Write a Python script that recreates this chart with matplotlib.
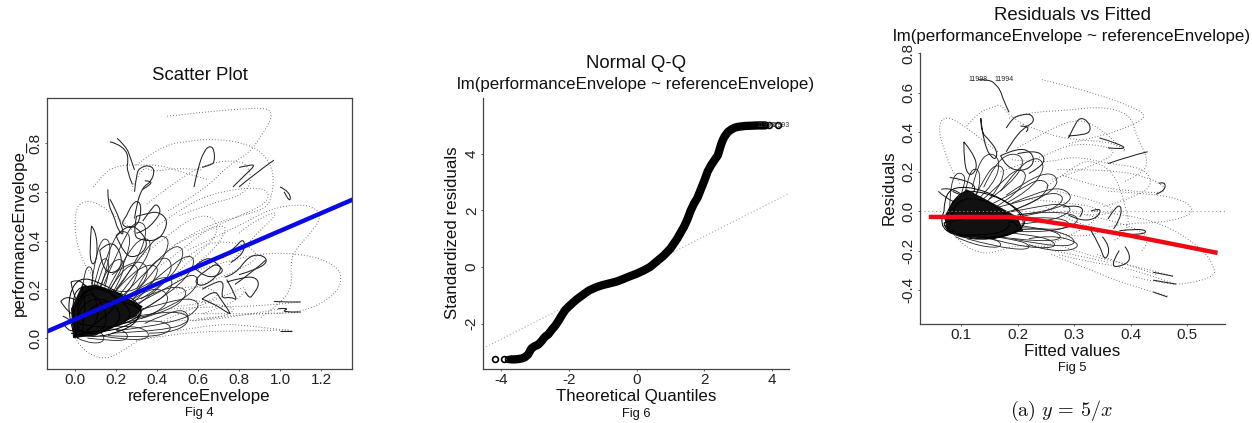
import matplotlib
matplotlib.use('Agg')
import matplotlib.pyplot as plt
from matplotlib.path import Path
from matplotlib.patches import PathPatch

plt.rcParams['font.family'] = ['Liberation Sans', 'DejaVu Sans']
plt.rcParams['mathtext.fontset'] = 'cm'

W, H = 1252, 423

# Fig 4 scatter: faint dotted excursions
scatter_dotted = [
    [(0.45,0.91),(0.6,0.925),(0.8,0.94),(0.93,0.945),(0.96,0.925),(0.95,0.885),(0.9,0.82),(0.85,0.76),(0.75,0.71),(0.62,0.6),(0.45,0.52)],
    [(0.3,0.71),(0.41,0.785),(0.55,0.81),(0.7,0.817),(0.82,0.8),(0.9,0.77),(0.95,0.72),(0.97,0.66),(0.96,0.58),(0.93,0.53),(0.8,0.5),(0.6,0.45),(0.45,0.36)],
    [(0.6,0.28),(0.8,0.33),(0.95,0.35),(1.1,0.345),(1.22,0.32),(1.29,0.28),(1.3,0.24),(1.28,0.19),(1.18,0.13),(1.05,0.1),(0.85,0.1),(0.6,0.08)],
    [(0.55,0.36),(0.8,0.46),(0.95,0.53),(1.09,0.55),(1.17,0.535),(1.2,0.5),(1.17,0.45),(1.07,0.36),(1.05,0.3),(1.06,0.21),(1.0,0.14),(0.9,0.08)],
    [(0.0,0.0),(0.03,-0.04),(0.08,-0.07),(0.14,-0.086),(0.2,-0.07),(0.27,-0.03),(0.33,0.0),(0.42,0.01)],
    [(0.3,0.43),(0.2,0.5),(0.1,0.56),(0.03,0.56),(0.0,0.52),(0.0,0.42),(0.03,0.33),(0.07,0.27),(0.13,0.2)],
    [(0.09,0.62),(0.14,0.68),(0.22,0.71),(0.3,0.71),(0.42,0.71),(0.52,0.68),(0.65,0.65)],
    [(0.35,0.55),(0.5,0.65),(0.65,0.72),(0.8,0.73),(0.85,0.7),(0.86,0.63),(0.8,0.58),(0.65,0.55),(0.5,0.5)],
    [(0.4,0.46),(0.55,0.55),(0.7,0.6),(0.88,0.62),(0.95,0.6),(0.93,0.55),(0.8,0.5),(0.6,0.43),(0.48,0.38)],
    [(0.5,0.03),(0.7,0.06),(0.85,0.05),(1.06,0.03)],
    [(0.47,0.12),(0.7,0.13),(0.9,0.13),(1.1,0.148)],
    [(0.5,0.1),(0.7,0.1),(0.9,0.1),(1.1,0.105)],
    [(0.42,0.07),(0.6,0.07),(0.8,0.09),(1.0,0.12)],
    [(0.3,-0.01),(0.5,0.02),(0.75,0.03),(1.05,0.033)],
    [(0.5,0.3),(0.6,0.37),(0.7,0.4),(0.85,0.38),(0.9,0.33),(0.8,0.28),(0.65,0.23),(0.5,0.18)],
    [(0.28,0.62),(0.33,0.71),(0.38,0.68),(0.5,0.7),(0.62,0.69)],
    [(0.3,0.32),(0.45,0.42),(0.58,0.5),(0.68,0.5),(0.7,0.43),(0.62,0.36),(0.5,0.27)],
    [(0.8,0.43),(0.85,0.47),(1.02,0.535),(0.85,0.4),(0.75,0.3)],
    [(0.45,0.08),(0.6,0.13),(0.75,0.18),(0.85,0.22),(0.78,0.14),(0.62,0.1)],
    [(0.42,0.3),(0.55,0.38),(0.63,0.44),(0.75,0.47),(0.7,0.38),(0.56,0.28),(0.45,0.2)],
    [(0.48,0.2),(0.6,0.22),(0.72,0.18),(0.62,0.14),(0.5,0.13)],
    [(0.55,0.16),(0.68,0.14),(0.8,0.12),(0.7,0.08),(0.56,0.07)],
]

# Fig 4 scatter: darker solid loops
scatter_solid = [
    [(0.17,0.805),(0.2,0.8),(0.25,0.77),(0.26,0.73),(0.25,0.69),(0.28,0.63)],
    [(0.205,0.82),(0.25,0.785),(0.27,0.74),(0.29,0.69)],
    [(0.29,0.6),(0.3,0.68),(0.32,0.7),(0.36,0.71),(0.39,0.69),(0.37,0.64),(0.33,0.62),(0.3,0.55),(0.29,0.49)],
    [(0.33,0.61),(0.37,0.63),(0.37,0.645),(0.34,0.645)],
    [(0.58,0.62),(0.6,0.7),(0.63,0.77),(0.66,0.79),(0.68,0.77),(0.68,0.72),(0.66,0.71),(0.62,0.7)],
    [(0.8,0.7),(0.85,0.71),(0.88,0.71),(0.83,0.67),(0.77,0.62)],
    [(0.8,0.62),(0.87,0.67),(0.97,0.73)],
    [(1.0,0.62),(1.05,0.6),(1.05,0.55),(1.02,0.6)],
    [(0.16,0.61),(0.16,0.55),(0.19,0.5),(0.21,0.44),(0.24,0.42),(0.22,0.48),(0.19,0.54),(0.17,0.57)],
    [(0.08,0.46),(0.1,0.44),(0.11,0.36),(0.1,0.31),(0.08,0.3),(0.07,0.36),(0.08,0.46)],
    [(0.25,0.5),(0.28,0.56),(0.32,0.56),(0.32,0.5),(0.3,0.46),(0.26,0.45),(0.22,0.47),(0.25,0.5)],
    [(0.33,0.48),(0.38,0.54),(0.4,0.55),(0.42,0.52),(0.39,0.48),(0.34,0.44),(0.3,0.43)],
    [(0.3,0.5),(0.35,0.51),(0.4,0.52),(0.45,0.49),(0.44,0.44),(0.4,0.4),(0.33,0.4),(0.28,0.42),(0.3,0.5)],
    [(0.2,0.42),(0.26,0.47),(0.32,0.44),(0.36,0.38),(0.3,0.33),(0.24,0.34),(0.2,0.42)],
    [(0.12,0.36),(0.17,0.4),(0.22,0.36),(0.23,0.29),(0.17,0.26),(0.13,0.3),(0.12,0.36)],
    [(-0.07,0.15),(-0.05,0.17),(0.0,0.16),(0.05,0.13),(0.02,0.09),(-0.03,0.1),(-0.07,0.15)],
    [(-0.02,0.23),(0.01,0.24),(0.05,0.22),(0.06,0.17),(0.02,0.14),(-0.01,0.18),(-0.02,0.23)],
    [(-0.06,0.09),(-0.03,0.08),(0.0,0.05),(-0.02,0.02),(-0.05,0.05)],
    [(0.68,0.3),(0.72,0.3),(0.69,0.25),(0.62,0.21),(0.58,0.23),(0.62,0.27),(0.68,0.3)],
    [(0.62,0.2),(0.66,0.22),(0.73,0.24),(0.71,0.16),(0.76,0.17),(0.8,0.15),(0.74,0.24)],
    [(0.73,0.25),(0.78,0.26),(0.85,0.34),(0.92,0.34),(0.94,0.31),(0.88,0.28),(0.8,0.26)],
    [(0.74,0.23),(0.82,0.25),(0.88,0.25),(0.9,0.22),(0.87,0.18),(0.85,0.16),(0.83,0.19)],
    [(0.72,0.33),(0.78,0.37),(0.82,0.41),(0.83,0.37),(0.8,0.33),(0.76,0.31)],
    [(0.62,0.16),(0.68,0.2),(0.71,0.16),(0.76,0.1),(0.75,0.1),(0.68,0.14),(0.62,0.16)],
    [(0.93,0.32),(0.88,0.28),(0.78,0.22)],
    [(0.97,0.15),(1.05,0.147),(1.1,0.148)],
    [(0.99,0.12),(1.05,0.125),(1.0,0.105),(1.1,0.107)],
    [(1.0,0.03),(1.06,0.03)],
    [(0.58,0.29),(0.64,0.34),(0.7,0.3),(0.73,0.27),(0.64,0.24),(0.58,0.29)],
]

# Fig 4 scatter: petals running out of the core to the edge of the cloud
scatter_petals = [
    [(0.05,0.08),(0.1,0.24),(0.13,0.33),(0.17,0.32),(0.15,0.2),(0.08,0.06)],
    [(0.06,0.08),(0.14,0.26),(0.2,0.33),(0.25,0.31),(0.2,0.2),(0.09,0.06)],
    [(0.08,0.08),(0.18,0.22),(0.27,0.31),(0.32,0.28),(0.24,0.16),(0.1,0.05)],
    [(0.1,0.1),(0.24,0.24),(0.36,0.31),(0.42,0.28),(0.32,0.16),(0.14,0.06)],
    [(0.12,0.1),(0.3,0.2),(0.44,0.26),(0.49,0.22),(0.38,0.13),(0.16,0.05)],
    [(0.12,0.1),(0.34,0.17),(0.5,0.22),(0.56,0.18),(0.44,0.1),(0.18,0.05)],
    [(0.14,0.08),(0.38,0.13),(0.56,0.17),(0.62,0.13),(0.5,0.06),(0.2,0.03)],
    [(0.14,0.07),(0.36,0.1),(0.52,0.11),(0.57,0.07),(0.44,0.03),(0.18,0.02)],
    [(0.12,0.05),(0.3,0.07),(0.44,0.07),(0.48,0.03),(0.36,0.0),(0.16,0.01)],
    [(0.1,0.05),(0.24,0.05),(0.34,0.04),(0.37,0.0),(0.26,-0.01),(0.12,0.01)],
    [(0.06,0.04),(0.16,0.04),(0.25,0.03),(0.26,-0.01),(0.16,-0.01),(0.06,0.0)],
    [(0.02,0.05),(0.08,0.03),(0.14,0.02),(0.14,-0.02),(0.06,-0.02),(0.01,0.0)],
    [(0.02,0.12),(0.04,0.24),(0.06,0.3),(0.09,0.28),(0.08,0.16),(0.04,0.06)],
    [(0.16,0.2),(0.26,0.36),(0.34,0.42),(0.38,0.38),(0.3,0.26),(0.18,0.14)],
    [(0.2,0.2),(0.34,0.36),(0.42,0.43),(0.47,0.39),(0.38,0.26),(0.24,0.14)],
    [(0.24,0.18),(0.4,0.32),(0.5,0.39),(0.54,0.34),(0.44,0.22),(0.28,0.12)],
    [(0.28,0.16),(0.44,0.28),(0.56,0.35),(0.59,0.3),(0.48,0.19),(0.3,0.1)],
    [(0.3,0.14),(0.48,0.22),(0.58,0.27),(0.61,0.22),(0.5,0.14),(0.32,0.08)],
    [(0.1,0.2),(0.17,0.38),(0.23,0.45),(0.28,0.41),(0.22,0.26),(0.13,0.14)],
    [(0.14,0.22),(0.24,0.42),(0.31,0.49),(0.36,0.44),(0.28,0.28),(0.17,0.16)],
    [(0.08,0.22),(0.1,0.34),(0.14,0.42),(0.18,0.38),(0.14,0.24),(0.1,0.14)],
    [(0.3,0.2),(0.36,0.3),(0.45,0.34),(0.48,0.28),(0.4,0.2),(0.32,0.16)],
    [(0.22,0.12),(0.34,0.2),(0.44,0.2),(0.46,0.14),(0.34,0.08),(0.24,0.08)],
    [(0.34,0.06),(0.44,0.1),(0.54,0.12),(0.56,0.06),(0.46,0.02),(0.36,0.02)],
    [(0.18,0.26),(0.28,0.32),(0.36,0.3),(0.34,0.22),(0.24,0.18),(0.18,0.2)],
]

# Fig 4 scatter: outline of the solid black part of the cloud
scatter_blob_x = [-0.01,0.1,0.2,0.3,0.33,0.2,0.1,0.03,-0.02]
scatter_blob_y = [0.0,0.01,0.05,0.09,0.13,0.19,0.22,0.21,0.12]

# Fig 4 scatter: the dense scribble near the origin
scatter_core = [
    [(-0.02,0.02),(0.08,0.0),(0.2,0.02),(0.3,0.06),(0.32,0.12),(0.24,0.17),(0.12,0.23),(0.02,0.25),(-0.03,0.18),(-0.03,0.08),(0.0,0.0)],
    [(0.0,0.03),(0.12,0.02),(0.26,0.05),(0.34,0.1),(0.28,0.17),(0.14,0.2),(0.02,0.22),(-0.02,0.14),(0.0,0.03)],
    [(0.01,0.0),(0.1,0.06),(0.22,0.14),(0.14,0.22),(0.04,0.19),(-0.02,0.1),(0.01,0.0)],
    [(0.02,0.02),(0.14,0.01),(0.24,0.09),(0.16,0.16),(0.06,0.16),(0.0,0.08),(0.02,0.02)],
    [(0.0,0.01),(0.2,0.04),(0.36,0.11),(0.2,0.16),(0.06,0.13),(0.0,0.01)],
    [(0.01,0.04),(0.09,0.0),(0.17,0.07),(0.1,0.19),(0.01,0.16),(0.01,0.04)],
    [(0.02,0.06),(0.16,0.03),(0.3,0.09),(0.18,0.19),(0.05,0.21),(0.0,0.12),(0.02,0.06)],
    [(0.03,0.01),(0.06,0.12),(0.02,0.24),(0.1,0.18),(0.12,0.06),(0.03,0.01)],
]
fit_x = [-0.137, 1.351]
fit_y = [0.027, 0.567]

# Fig 6 Q-Q
qq_x = [-3.7,-3.6,-3.5,-3.4,-3.3,-3.2,-3.1,-3.0,-2.9,-2.8,-2.7,-2.6,-2.5,-2.4,-2.3,-2.2,-2.1,-2.0,-1.8,-1.6,-1.4,-1.2,-1.0,-0.8,-0.6,-0.4,-0.2,0.0,0.2,0.4,0.6,0.8,1.0,1.2,1.4,1.5,1.6,1.7,1.8,1.9,2.0,2.1,2.2,2.3,2.4,2.5,2.55,2.6,2.7,2.8,2.9,3.0,3.2,3.4,3.6,3.8]
qq_y = [-3.27,-3.27,-3.26,-3.24,-3.2,-3.1,-2.88,-2.8,-2.75,-2.62,-2.47,-2.38,-2.22,-2.08,-1.9,-1.7,-1.52,-1.4,-1.18,-1.0,-0.83,-0.72,-0.64,-0.58,-0.52,-0.43,-0.33,-0.24,-0.13,0.0,0.2,0.4,0.65,1.0,1.42,1.68,2.0,2.25,2.45,2.75,3.05,3.38,3.6,3.78,3.95,4.35,4.5,4.62,4.78,4.87,4.93,4.96,4.99,5.0,5.01,5.01]
qq_tail_x = [-4.17,-3.9,-3.78,3.9,4.17]
qq_tail_y = [-3.27,-3.27,-3.27,5.01,5.01]
qq_line_x = [-4.53, 4.5]
qq_line_y = [-2.88, 2.6]

# Fig 5 residuals: faint dotted excursions
resid_dotted = [
    [(0.243,0.665),(0.3,0.625),(0.352,0.58),(0.4,0.53),(0.426,0.49),(0.42,0.46),(0.39,0.42),(0.36,0.39),(0.33,0.37),(0.29,0.34)],
    [(0.185,0.47),(0.22,0.5),(0.29,0.51),(0.35,0.53),(0.4,0.49),(0.41,0.38),(0.425,0.3),(0.43,0.24),(0.42,0.19),(0.39,0.15)],
    [(0.28,0.18),(0.33,0.13),(0.4,0.1),(0.46,0.09),(0.46,0.13),(0.42,0.18),(0.38,0.2),(0.32,0.21),(0.27,0.21)],
    [(0.36,0.1),(0.43,0.09),(0.49,0.06),(0.512,0.01),(0.5,-0.03),(0.45,-0.06),(0.4,-0.06),(0.36,-0.08)],
    [(0.33,0.0),(0.4,-0.02),(0.47,-0.08),(0.53,-0.2),(0.547,-0.28),(0.55,-0.33),(0.5,-0.37),(0.46,-0.37),(0.4,-0.33)],
    [(0.48,-0.37),(0.44,-0.33),(0.38,-0.28),(0.33,-0.26),(0.27,-0.22)],
    [(0.465,-0.43),(0.4,-0.38),(0.33,-0.3),(0.26,-0.22)],
    [(0.475,-0.33),(0.41,-0.28),(0.33,-0.23),(0.28,-0.18)],
    [(0.445,-0.32),(0.39,-0.27),(0.34,-0.22)],
    [(0.085,-0.11),(0.1,-0.17),(0.14,-0.22),(0.17,-0.2),(0.2,-0.17),(0.25,-0.18)],
    [(0.165,0.3),(0.12,0.4),(0.085,0.47),(0.065,0.47),(0.06,0.4),(0.075,0.27),(0.085,0.2),(0.1,0.13)],
    [(0.11,0.43),(0.13,0.5),(0.16,0.53),(0.17,0.54),(0.19,0.47),(0.22,0.42)],
    [(0.2,0.32),(0.26,0.42),(0.31,0.47),(0.35,0.41),(0.38,0.33),(0.39,0.3)],
    [(0.17,0.2),(0.25,0.28),(0.3,0.35),(0.39,0.31),(0.31,0.2),(0.26,0.16)],
    [(0.25,0.12),(0.3,0.23),(0.33,0.26),(0.37,0.2),(0.39,0.04),(0.4,-0.1),(0.37,-0.15)],
    [(0.19,0.26),(0.25,0.24),(0.3,0.28),(0.36,0.24),(0.42,0.22),(0.44,0.15),(0.42,0.08),(0.35,0.02)],
    [(0.22,0.06),(0.3,0.04),(0.35,0.01),(0.33,-0.07),(0.28,-0.14),(0.24,-0.19),(0.3,-0.22),(0.36,-0.26)],
    [(0.42,-0.2),(0.44,-0.14),(0.39,-0.06),(0.32,-0.02)],
    [(0.21,0.44),(0.25,0.39),(0.3,0.36),(0.37,0.35),(0.39,0.31)],
    [(0.25,0.02),(0.3,-0.06),(0.36,-0.1),(0.3,-0.14),(0.26,-0.1)],
    [(0.27,0.1),(0.33,0.06),(0.38,0.0),(0.33,-0.03),(0.28,0.0)],
]

# Fig 5 residuals: darker solid loops
resid_solid = [
    [(0.13,0.665),(0.15,0.665),(0.16,0.645),(0.17,0.61),(0.175,0.56),(0.185,0.5)],
    [(0.18,0.42),(0.19,0.47),(0.21,0.49),(0.225,0.49),(0.23,0.45),(0.21,0.42),(0.19,0.35),(0.18,0.3)],
    [(0.205,0.43),(0.225,0.43),(0.215,0.4)],
    [(0.29,0.37),(0.3,0.43),(0.31,0.475),(0.325,0.455),(0.33,0.41),(0.32,0.385),(0.29,0.38)],
    [(0.345,0.37),(0.375,0.345),(0.397,0.31),(0.36,0.32)],
    [(0.36,0.24),(0.4,0.28),(0.43,0.3)],
    [(0.45,0.14),(0.462,0.15),(0.46,0.1),(0.445,0.085)],
    [(0.135,0.47),(0.135,0.4),(0.15,0.36),(0.165,0.3),(0.16,0.25),(0.14,0.33),(0.135,0.47)],
    [(0.105,0.35),(0.12,0.3),(0.13,0.22),(0.115,0.17),(0.105,0.24),(0.105,0.35)],
    [(0.17,0.28),(0.2,0.32),(0.225,0.3),(0.23,0.24),(0.21,0.2),(0.18,0.22),(0.17,0.28)],
    [(0.2,0.29),(0.23,0.31),(0.25,0.27),(0.24,0.22),(0.22,0.19)],
    [(0.065,0.11),(0.08,0.12),(0.11,0.07),(0.1,0.03),(0.07,0.07),(0.06,0.1)],
    [(0.08,0.17),(0.105,0.16),(0.13,0.12),(0.11,0.06),(0.085,0.1)],
    [(0.33,-0.0),(0.35,0.02),(0.34,-0.04),(0.31,-0.05),(0.29,-0.02)],
    [(0.33,-0.1),(0.345,-0.17),(0.355,-0.26),(0.365,-0.18),(0.35,-0.13)],
    [(0.36,-0.04),(0.375,0.03),(0.385,0.02),(0.38,-0.05),(0.37,-0.09)],
    [(0.39,-0.18),(0.4,-0.22),(0.395,-0.27),(0.36,-0.29),(0.38,-0.2)],
    [(0.38,-0.1),(0.41,-0.09),(0.43,-0.1),(0.42,-0.12),(0.38,-0.12)],
    [(0.31,-0.03),(0.32,0.01),(0.3,0.03),(0.28,0.02)],
    [(0.44,-0.31),(0.475,-0.33)],
    [(0.44,-0.35),(0.48,-0.37)],
    [(0.44,-0.41),(0.465,-0.435)],
]

# Fig 5 residuals: petals running out of the core
resid_petals = [
    [(0.1,0.0),(0.11,0.14),(0.12,0.22),(0.135,0.2),(0.13,0.08),(0.11,-0.03)],
    [(0.11,0.0),(0.14,0.16),(0.16,0.24),(0.18,0.21),(0.16,0.08),(0.12,-0.03)],
    [(0.12,0.01),(0.17,0.14),(0.2,0.22),(0.22,0.18),(0.19,0.06),(0.13,-0.03)],
    [(0.13,0.0),(0.2,0.1),(0.24,0.17),(0.26,0.12),(0.22,0.02),(0.14,-0.04)],
    [(0.14,0.0),(0.22,0.06),(0.27,0.1),(0.285,0.05),(0.24,-0.02),(0.15,-0.05)],
    [(0.14,-0.03),(0.23,0.02),(0.28,0.04),(0.3,0.0),(0.25,-0.06),(0.15,-0.08)],
    [(0.14,-0.05),(0.22,-0.03),(0.29,-0.04),(0.29,-0.09),(0.22,-0.11),(0.15,-0.1)],
    [(0.13,-0.08),(0.2,-0.08),(0.27,-0.1),(0.28,-0.15),(0.21,-0.15),(0.14,-0.12)],
    [(0.13,-0.09),(0.19,-0.11),(0.26,-0.14),(0.27,-0.19),(0.2,-0.18),(0.14,-0.13)],
    [(0.11,-0.1),(0.16,-0.13),(0.22,-0.16),(0.22,-0.2),(0.16,-0.18),(0.11,-0.14)],
    [(0.09,-0.1),(0.13,-0.13),(0.17,-0.15),(0.17,-0.19),(0.12,-0.17),(0.09,-0.13)],
    [(0.08,0.0),(0.08,0.1),(0.09,0.2),(0.11,0.18),(0.1,0.08),(0.09,-0.02)],
    [(0.17,0.1),(0.2,0.22),(0.235,0.28),(0.25,0.22),(0.22,0.1),(0.18,0.04)],
    [(0.18,0.08),(0.22,0.16),(0.26,0.2),(0.275,0.14),(0.24,0.06),(0.19,0.0)],
    [(0.14,0.12),(0.16,0.24),(0.19,0.3),(0.215,0.26),(0.19,0.14),(0.15,0.06)],
    [(0.19,0.04),(0.24,0.1),(0.28,0.12),(0.3,0.06),(0.26,0.0),(0.2,-0.02)],
    [(0.2,-0.02),(0.25,0.0),(0.31,-0.02),(0.3,-0.08),(0.25,-0.1),(0.2,-0.07)],
    [(0.19,-0.1),(0.24,-0.08),(0.3,-0.13),(0.3,-0.18),(0.24,-0.17),(0.19,-0.14)],
    [(0.12,0.12),(0.13,0.24),(0.15,0.3),(0.17,0.26),(0.16,0.14),(0.13,0.06)],
    [(0.22,-0.14),(0.26,-0.12),(0.31,-0.16),(0.3,-0.2),(0.25,-0.2),(0.22,-0.17)],
]

# Fig 5 residuals: outline of the solid black part of the cloud
resid_blob_x = [0.075,0.1,0.16,0.21,0.2,0.15,0.11,0.085,0.07]
resid_blob_y = [-0.1,-0.13,-0.14,-0.1,-0.03,0.05,0.11,0.05,-0.03]

# Fig 5 residuals: the dense scribble
resid_core = [
    [(0.07,0.0),(0.07,0.1),(0.11,0.13),(0.17,0.07),(0.21,-0.02),(0.21,-0.1),(0.15,-0.15),(0.09,-0.13),(0.06,-0.07),(0.07,0.0)],
    [(0.075,-0.02),(0.09,0.1),(0.14,0.1),(0.2,0.02),(0.22,-0.07),(0.17,-0.14),(0.1,-0.14),(0.07,-0.07)],
    [(0.08,-0.11),(0.08,0.02),(0.12,0.08),(0.18,0.0),(0.19,-0.1),(0.12,-0.13),(0.08,-0.11)],
    [(0.07,-0.06),(0.13,-0.02),(0.2,-0.05),(0.2,-0.12),(0.12,-0.14),(0.07,-0.1),(0.07,-0.06)],
]
smooth_x = [0.047,0.1,0.15,0.185,0.22,0.3,0.4,0.55]
smooth_y = [-0.03,-0.03,-0.03,-0.03,-0.04,-0.075,-0.125,-0.21]
zero_x = [0.0274, 0.567]
zero_y = [0.0, 0.0]


def px_axes(fig, left, right, top, bottom):
    return fig.add_axes([left / W, 1 - bottom / H, (right - left) / W, (bottom - top) / H])


def label(fig, x, y, text, size, rotation=0, **kw):
    fig.text(x / W, 1 - y / H, text, fontsize=size, rotation=rotation, ha='center', va='center', color='#111111', **kw)


def style(ax):
    for s in ax.spines.values():
        s.set_color('#444444')
        s.set_linewidth(0.9)
    ax.tick_params(length=1.5, width=0.6, color='#444444', labelsize=11, labelcolor='#222222', pad=1.5)
    for t in ax.get_yticklabels():
        t.set_rotation(90)
        t.set_va('center')


# the read points are control points of the library's quadratic bezier segments
def curve(ax, xs, ys, **kw):
    pts = list(zip(xs, ys))
    verts = [pts[0]]
    codes = [Path.MOVETO]
    for i in range(1, len(pts) - 1):
        end = pts[i + 1] if i == len(pts) - 2 else ((pts[i][0] + pts[i + 1][0]) / 2, (pts[i][1] + pts[i + 1][1]) / 2)
        verts += [pts[i], end]
        codes += [Path.CURVE3, Path.CURVE3]
    if len(pts) == 2:
        verts.append(pts[1])
        codes.append(Path.LINETO)
    ax.add_patch(PathPatch(Path(verts, codes), fill=False, **kw))


def draw_loops(ax, loops, **kw):
    for loop in loops:
        xs, ys = zip(*loop)
        curve(ax, xs, ys, **kw)


fig = plt.figure(figsize=(W / 100, H / 100), dpi=100)
faint = dict(edgecolor='#555555', lw=0.7, ls=(0, (0.8, 2.2)))
dark = dict(edgecolor='#222222', lw=0.75)

# Fig 4
ax1 = px_axes(fig, 47, 352, 98, 369)
draw_loops(ax1, scatter_dotted, **faint)
draw_loops(ax1, scatter_solid, **dark)
draw_loops(ax1, scatter_petals, edgecolor='#222222', lw=0.6)
ax1.fill(scatter_blob_x, scatter_blob_y, color='#111111', lw=0)
draw_loops(ax1, scatter_core, edgecolor='black', lw=0.7)
ax1.plot(fit_x, fit_y, color='#0808e8', lw=3.2)
ax1.set_xlim(-0.137, 1.351)
ax1.set_ylim(-0.127, 0.985)
ax1.set_xticks([0, 0.2, 0.4, 0.6, 0.8, 1.0, 1.2])
ax1.set_yticks([0, 0.2, 0.4, 0.6, 0.8])
ax1.set_xticklabels(['0.0', '0.2', '0.4', '0.6', '0.8', '1.0', '1.2'])
ax1.set_yticklabels(['0.0', '0.2', '0.4', '0.6', '0.8'])
style(ax1)
label(fig, 200, 76, 'Scatter Plot', 13.4)
label(fig, 199, 396, 'referenceEnvelope', 12.2)
label(fig, 199, 413, 'Fig 4', 9.3)
label(fig, 19, 228, 'performanceEnvelope_', 12.2, rotation=90)

# Fig 6
ax2 = px_axes(fig, 483, 789, 98, 369)
ax2.plot(qq_line_x, qq_line_y, color='#aaaaaa', lw=0.8, ls=(0, (1, 2)))
ax2.plot(qq_x, qq_y, color='black', lw=6, solid_capstyle='round')
ax2.plot(qq_tail_x, qq_tail_y, ls='none', marker='o', ms=4.2, mfc='none', mec='black', mew=1.2)
ax2.text(3.55, 5.01, '11993', fontsize=5, va='center', ha='left', color='#333333')
ax2.text(3.95, 5.01, '11993', fontsize=5, va='center', ha='left', color='#333333')
ax2.set_xlim(-4.53, 4.5)
ax2.set_ylim(-3.61, 5.98)
ax2.set_xticks([-4, -2, 0, 2, 4])
ax2.set_yticks([-2, 0, 2, 4])
ax2.set_xticklabels(['-4', '-2', '0', '2', '4'])
ax2.set_yticklabels(['-2', '0', '2', '4'])
ax2.spines['top'].set_visible(False)
ax2.spines['right'].set_visible(False)
style(ax2)
label(fig, 636, 63, 'Normal Q-Q', 13.4)
label(fig, 636, 84, 'lm(performanceEnvelope ~ referenceEnvelope)', 12.2)
label(fig, 636, 396, 'Theoretical Quantiles', 12.2)
label(fig, 636, 414, 'Fig 6', 9.3)
label(fig, 452, 233, 'Standardized residuals', 12.2, rotation=90)

# Fig 5
ax3 = px_axes(fig, 920, 1225, 53, 324)
ax3.plot(zero_x, zero_y, color='#999999', lw=0.8, ls=(0, (1, 2.5)))
draw_loops(ax3, resid_dotted, **faint)
draw_loops(ax3, resid_solid, **dark)
draw_loops(ax3, resid_petals, edgecolor='#222222', lw=0.6)
ax3.fill(resid_blob_x, resid_blob_y, color='#111111', lw=0)
draw_loops(ax3, resid_core, edgecolor='black', lw=0.7)
ax3.plot(smooth_x, smooth_y, color='#ee0a14', lw=3.2)
ax3.text(0.113, 0.665, '11998', fontsize=5, va='center', ha='left', color='#222222')
ax3.text(0.16, 0.665, '11994', fontsize=5, va='center', ha='left', color='#222222')
ax3.set_xlim(0.0274, 0.567)
ax3.set_ylim(-0.572, 0.8)
ax3.set_xticks([0.1, 0.2, 0.3, 0.4, 0.5])
ax3.set_yticks([-0.4, -0.2, 0, 0.2, 0.4, 0.6, 0.8])
ax3.set_xticklabels(['0.1', '0.2', '0.3', '0.4', '0.5'])
ax3.set_yticklabels(['-0.4', '-0.2', '0.0', '0.2', '0.4', '0.6', '0.8'])
ax3.spines['top'].set_visible(False)
ax3.spines['right'].set_visible(False)
style(ax3)
label(fig, 1072, 16, 'Residuals vs Fitted', 13.4)
label(fig, 1072, 37, 'lm(performanceEnvelope ~ referenceEnvelope)', 12.2)
label(fig, 1072, 351, 'Fitted values', 12.2)
label(fig, 1072, 368, 'Fig 5', 9.3)
label(fig, 889, 188, 'Residuals', 12.2, rotation=90)
label(fig, 1061, 411, r'$\mathrm{(a)}\ y\,=\,5/x$', 14.5)

fig.savefig('out.png', dpi=100)
